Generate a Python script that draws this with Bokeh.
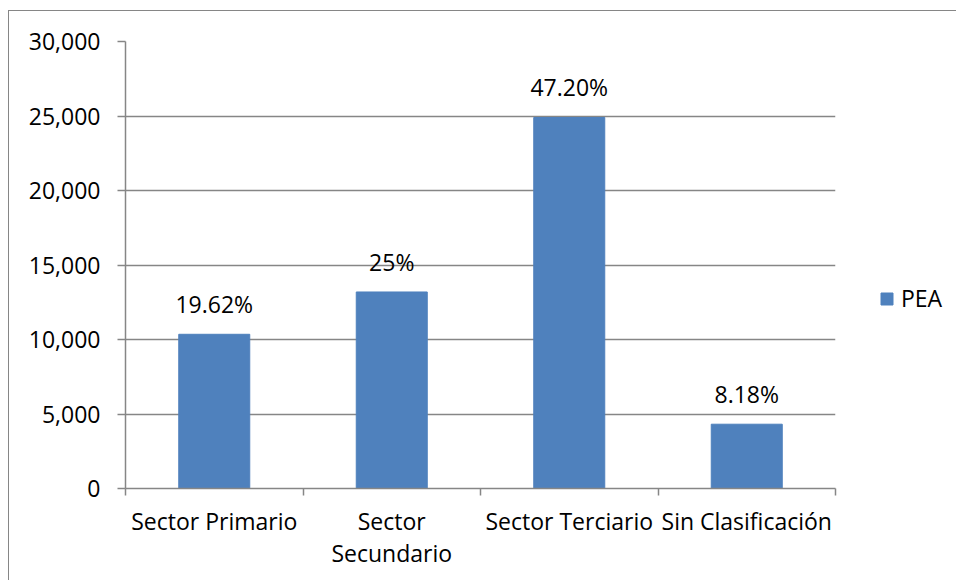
from bokeh.plotting import figure
from bokeh.models import (Range1d, LinearAxis, FixedTicker,
                          NumeralTickFormatter, Legend, LegendItem, ColumnDataSource)
from bokeh.embed import file_html
from bokeh.resources import INLINE
from bokeh.core.properties import value

categories = ["Sector Primario", "Sector Secundario", "Sector Terciario", "Sin Clasificación"]
pea = [10350, 13190, 24900, 4315]
pct_labels = ["19.62%", "25%", "47.20%", "8.18%"]
y_ticks = [0, 5000, 10000, 15000, 20000, 25000, 30000]
series_name = "PEA"

FONT = "Open Sans"
FS = "23px"
GRAY = "#868686"
BAR = "#4F81BD"

n = len(categories)
centers = [i + 0.5 for i in range(n)]          # category slot centres on the x scale
bounds = [i for i in range(n + 1)]             # category slot boundaries

src = ColumnDataSource(dict(x=centers, pea=pea, lbl=pct_labels))

p = figure(x_range=Range1d(0, n), y_range=Range1d(0, 30000),
           frame_width=710, frame_height=447,
           min_border_left=116, min_border_right=121, min_border_top=30, min_border_bottom=92,
           x_axis_location=None, y_axis_location="left",
           output_backend="svg", toolbar_location=None, tools="")
p.outline_line_color = None
p.background_fill_color = "white"
p.border_fill_color = "white"
p.styles = {"border-left": "1px solid #868686", "border-top": "1px solid #868686",
            "margin-top": "10px", "margin-left": "8px"}
p.xgrid.visible = False

# y axis
p.yaxis.ticker = FixedTicker(ticks=y_ticks)
p.yaxis.formatter = NumeralTickFormatter(format="0,0")
p.yaxis.axis_line_color = GRAY
p.yaxis.axis_line_width = 1.5
p.yaxis.major_tick_line_color = GRAY
p.yaxis.major_tick_line_width = 1.5
p.yaxis.major_tick_out = 8
p.yaxis.major_tick_in = 0
p.yaxis.minor_tick_line_color = None
p.yaxis.major_label_text_font = FONT
p.yaxis.major_label_text_font_size = FS
p.yaxis.major_label_text_color = "black"
p.yaxis.major_label_standoff = 17
p.ygrid.ticker = FixedTicker(ticks=y_ticks)
p.ygrid.grid_line_color = GRAY
p.ygrid.grid_line_width = 1.5

bars = p.vbar(x="x", top="pea", width=0.4, source=src,
              fill_color=BAR, line_color=BAR)
p.text(x="x", y="pea", text="lbl", source=src, text_align="center",
       text_baseline="alphabetic", y_offset=-30, text_font=value(FONT),
       text_font_size=FS, text_color="black")

# x axis: labels at slot centres, tick marks at slot boundaries
overrides = {c: (lab.replace(" ", "\n") if lab == "Sector Secundario" else lab)
             for c, lab in zip(centers, categories)}
xaxis = LinearAxis(ticker=FixedTicker(ticks=centers, minor_ticks=bounds),
                   major_label_overrides=overrides,
                   major_label_standoff=9,
                   major_label_text_font=FONT, major_label_text_font_size=FS,
                   major_label_text_color="black",
                   major_label_text_line_height=1.0,
                   axis_line_color=GRAY, axis_line_width=1.5,
                   major_tick_line_color=None,
                   minor_tick_line_color=GRAY, minor_tick_line_width=1.5,
                   minor_tick_out=7, minor_tick_in=0)
p.add_layout(xaxis, "below")

legend = Legend(items=[LegendItem(label=series_name, renderers=[bars])],
                location=(44, 174), glyph_width=15, glyph_height=15, label_standoff=7,
                label_text_font=FONT, label_text_font_size=FS, label_text_color="black",
                border_line_color=None, background_fill_alpha=0, padding=0, margin=0,
                spacing=0)
p.add_layout(legend, "right")

open("out.html", "w").write(file_html(p, INLINE))
